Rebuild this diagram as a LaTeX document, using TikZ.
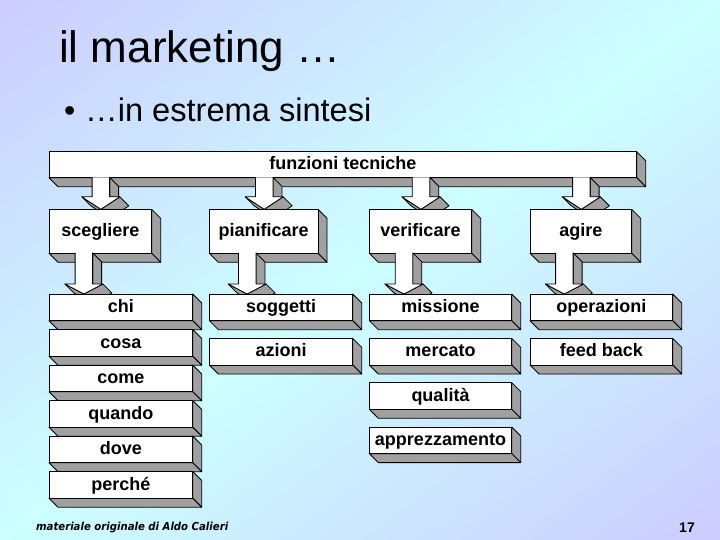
\documentclass[tikz,border=0pt]{standalone}
\usepackage{fontspec}
\setmainfont{Liberation Sans}
\newfontfamily\footfont{DejaVu Sans}
\usetikzlibrary{calc}
\definecolor{lav}{RGB}{204,204,255}
\definecolor{cy}{RGB}{204,255,255}
\definecolor{sidegray}{RGB}{160,160,160}
\pgfdeclarelayer{bgl}\pgfdeclarelayer{la}\pgfdeclarelayer{lb}\pgfdeclarelayer{lc}\pgfdeclarelayer{ld}
\pgfsetlayers{bgl,la,lb,lc,ld,main}
\newcommand\dd{9}
% 3D box: name, x1, y1, x2, y2 (pixels, y downwards), text
\newcommand\mybx[6]{%
 \filldraw[sidefill] (#4,-#3) -- ({#4+\dd},{-#3-\dd}) -- ({#4+\dd},{-#5-\dd}) -- (#4,-#5) -- cycle;
 \filldraw[sidefill] (#2,-#5) -- (#4,-#5) -- ({#4+\dd},{-#5-\dd}) -- ({#2+\dd},{-#5-\dd}) -- cycle;
 \node[boxst, minimum width={(#4-#2)*1pt}, minimum height={(#5-#3)*1pt}] (#1) at ({(#2+#4)/2},{-(#3+#5)/2}) {#6};
}
% 3D block arrow: upper node, lower node, node giving x, x offset, head height
\newcommand\blkarrow[5]{%
 \path let \p1=(#1.south), \p2=(#2.north), \p3=(#3.center) in
   coordinate (atop) at ({\x3+(#4pt)},{\y1+0.8pt})
   coordinate (abase) at ({\x3+(#4pt)},{\y2-0.4pt+(#5pt)})
   coordinate (atip) at ({\x3+(#4pt)},{\y2-0.4pt});
 \filldraw[sidefill] ([xshift=8.75pt]atop) -- ([xshift=8.75pt]abase) -- ([xshift=17.75pt,yshift=-9pt]abase) -- ([xshift=17.75pt,yshift=-9pt]atop) -- cycle;
 \filldraw[sidefill] ([xshift=19pt]abase) -- (atip) -- ([xshift=9pt,yshift=-9pt]atip) -- ([xshift=28pt,yshift=-9pt]abase) -- cycle;
 \filldraw[sidefill] (atip) -- ([xshift=-19pt]abase) -- ([xshift=-10pt,yshift=-9pt]abase) -- ([xshift=9pt,yshift=-9pt]atip) -- cycle;
 \fill[white] ([xshift=-8.75pt]atop) -- ([xshift=8.75pt]atop) -- ([xshift=8.75pt]abase) -- ([xshift=19pt]abase) -- (atip) -- ([xshift=-19pt]abase) -- ([xshift=-8.75pt]abase) -- cycle;
 \draw[line width=0.8pt, line join=round] ([xshift=8.75pt]atop) -- ([xshift=8.75pt]abase) -- ([xshift=19pt]abase) -- (atip) -- ([xshift=-19pt]abase) -- ([xshift=-8.75pt]abase) -- ([xshift=-8.75pt]atop);
}
\begin{document}
\begin{tikzpicture}[x=1pt,y=1pt,
  boxst/.style={draw=black, fill=white, line width=0.8pt, inner sep=0pt, text height=12.5pt, text depth=2pt, font=\fontsize{18}{20}\selectfont\bfseries},
  sidefill/.style={fill=sidegray, draw=black, line width=0.8pt, line join=round}]
\useasboundingbox (0,0) rectangle (720,-540);
\begin{pgfonlayer}{bgl}
 \begin{scope}
  \clip (0,0) rectangle (720,-540);
  \begin{scope}[transform canvas={shift={(360,-270)}, rotate=-53.13}]
   \shade[left color=lav, right color=lav, middle color=cy] (-432,-520) rectangle (432,520);
  \end{scope}
 \end{scope}
\end{pgfonlayer}
% titles
\node[anchor=base west, inner sep=0pt, font=\fontsize{44}{50}\selectfont] (title) at (59,-63) {il marketing …};
\node[anchor=base west, inner sep=0pt, font=\fontsize{32}{38}\selectfont] (bul) at (64,-122) {•};
\node[anchor=base west, inner sep=0pt, font=\fontsize{32.6}{38}\selectfont] (sub) at (85,-122) {…in estrema sintesi};
\node[anchor=base west, inner sep=0pt, font=\footfont\fontsize{11}{13}\selectfont\bfseries\itshape] (foot) at (36,-530) {\scalebox{0.92}[1]{materiale originale di Aldo Calieri}};
\node[inner sep=0pt, font=\fontsize{14}{16}\selectfont\bfseries] (pg) at (687,-528) {17};
% top bar
\begin{pgfonlayer}{la}
 \mybx{bar}{49}{151.7}{636.7}{177.7}{funzioni tecniche}
\end{pgfonlayer}
% second row
\begin{pgfonlayer}{lc}
 \mybx{sce}{49}{209.3}{151.7}{253.3}{scegliere}
 \mybx{pia}{209.3}{209.3}{318}{253.3}{pianificare}
 \mybx{ver}{369.3}{209.3}{471.7}{253.3}{verificare}
 \mybx{agi}{530}{209.3}{631.7}{253.3}{agire}
\end{pgfonlayer}
% third row
\mybx{chi}{49}{294}{192.7}{320.7}{chi}
\mybx{cosa}{49}{329.5}{192.7}{356.2}{cosa}
\mybx{come}{49}{365}{192.7}{391.7}{come}
\mybx{quando}{49}{400.5}{192.7}{427.2}{quando}
\mybx{dove}{49}{436}{192.7}{462.7}{dove}
\mybx{perche}{49}{471.5}{192.7}{498.2}{perché}
\mybx{sog}{209.3}{294}{352.7}{320.7}{soggetti}
\mybx{azi}{209.3}{338.3}{352.7}{365}{azioni}
\mybx{mis}{369.3}{294}{511.7}{320.7}{missione}
\mybx{mer}{369.3}{338.3}{511.7}{365}{mercato}
\mybx{qua}{369.3}{382.6}{511.7}{409.3}{qualità}
\mybx{app}{369.3}{426.9}{511.7}{453.6}{apprezzamento}
\mybx{ope}{530}{294}{672.7}{320.7}{operazioni}
\mybx{fee}{530}{338.3}{672.7}{365}{feed back}
% arrows bar -> second row
\begin{pgfonlayer}{lb}
 \blkarrow{bar}{sce}{sce}{0.5}{12.5}
 \blkarrow{bar}{pia}{pia}{0.5}{12.5}
 \blkarrow{bar}{ver}{ver}{0.5}{12.5}
 \blkarrow{bar}{agi}{agi}{0.5}{12.5}
\end{pgfonlayer}
% arrows second row -> third row
\begin{pgfonlayer}{ld}
 \blkarrow{sce}{chi}{sce}{-16.5}{10}
 \blkarrow{pia}{sog}{pia}{-16.5}{10}
 \blkarrow{ver}{mis}{ver}{-16.5}{10}
 \blkarrow{agi}{ope}{agi}{-16.5}{10}
\end{pgfonlayer}
\end{tikzpicture}
\end{document}
